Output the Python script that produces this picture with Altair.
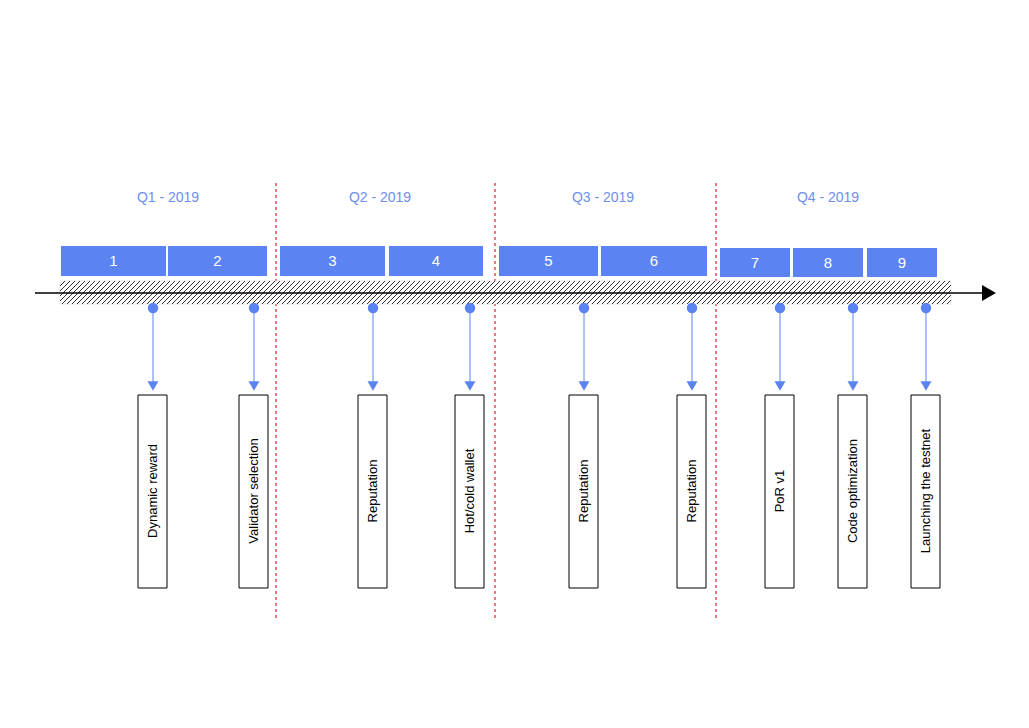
import altair as alt
import pandas as pd

quarters = ["Q1 - 2019", "Q2 - 2019", "Q3 - 2019", "Q4 - 2019"]
quarter_x = [168, 380, 603, 828]
dividers = [276, 495, 716]
sprint_labels = ["1", "2", "3", "4", "5", "6", "7", "8", "9"]
sprint_x0 = [61, 168, 280, 389, 499, 601, 720, 793, 867]
sprint_x1 = [166, 267, 385, 483, 598, 707, 790, 863, 937]
task_labels = ["Dynamic reward", "Validator selection", "Reputation", "Hot/cold wallet",
               "Reputation", "Reputation", "PoR v1", "Code optimization", "Launching the testnet"]
task_x = [153, 254, 373, 470, 584, 692, 780, 853, 926]

X = alt.Scale(domain=[8, 1021], nice=False, zero=False)
Y = alt.Scale(domain=[720, 8], nice=False, zero=False)
blue = "#5b84f2"

def xe(f): return alt.X(f, type="quantitative", scale=X, axis=None)
def ye(f): return alt.Y(f, type="quantitative", scale=Y, axis=None)

qdf = pd.DataFrame({"t": quarters, "x": quarter_x, "y": [198]*4})
qt = alt.Chart(qdf).mark_text(color="#6d8ff0", fontSize=14, font="Liberation Sans").encode(x=xe("x"), y=ye("y"), text="t")

ddf = pd.DataFrame({"x": dividers, "y": [183]*3, "y2": [620]*3})
dl = alt.Chart(ddf).mark_rule(color="#d9242c", strokeDash=[3, 3], strokeWidth=1.2).encode(x=xe("x"), y=ye("y"), y2="y2")

sdf = pd.DataFrame({"t": sprint_labels, "x": sprint_x0, "x2": sprint_x1,
                    "y": [246]*6 + [248]*3, "y2": [276]*6 + [277]*3})
sdf["xm"] = (sdf.x + sdf.x2) / 2
sdf["ym"] = (sdf.y + sdf.y2) / 2
sb = alt.Chart(sdf).mark_rect(color=blue).encode(x=xe("x"), x2="x2", y=ye("y"), y2="y2")
st = alt.Chart(sdf).mark_text(color="white", fontSize=15, font="Liberation Sans").encode(x=xe("xm"), y=ye("ym"), text="t")

# hatched band
hx = list(range(60 - 23, 951, 5))
rows = []
for x in hx:
    xa, ya, xb, yb = x, 304, x + 23, 281
    if xa < 60:
        ya = 304 - (60 - xa); xa = 60
    if xb > 951:
        yb = 281 + (xb - 951); xb = 951
    if xa < xb:
        rows.append({"x": xa, "y": ya, "x2": xb, "y2": yb})
hdf = pd.DataFrame(rows)
band = alt.Chart(pd.DataFrame({"x": [60], "x2": [951], "y": [281], "y2": [304]})).mark_rect(fill="white", stroke="#ccc", strokeWidth=0.5).encode(x=xe("x"), x2="x2", y=ye("y"), y2="y2")
hatch = alt.Chart(hdf).mark_rule(color="#333", strokeWidth=1).encode(x=xe("x"), x2="x2", y=ye("y"), y2="y2")

axis_line = alt.Chart(pd.DataFrame({"x": [35], "x2": [982], "y": [293]})).mark_rule(color="black", strokeWidth=1.5).encode(x=xe("x"), x2="x2", y=ye("y"))
arrow = alt.Chart(pd.DataFrame({"x": [989], "y": [293]})).mark_point(shape="triangle-right", filled=True, color="black", size=260, opacity=1).encode(x=xe("x"), y=ye("y"))

tdf = pd.DataFrame({"t": task_labels, "x": task_x})
tdf["y"] = 308; tdf["ya"] = 384; tdf["yh"] = 386
tdf["bx"] = tdf.x - 15; tdf["bx2"] = tdf.x + 14
tdf["by"] = 395; tdf["by2"] = 588; tdf["ym"] = 491
conn = alt.Chart(tdf).mark_rule(color=blue, strokeWidth=1).encode(x=xe("x"), y=ye("y"), y2="ya")
dots = alt.Chart(tdf).mark_circle(color=blue, size=110, opacity=1).encode(x=xe("x"), y=ye("y"))
heads = alt.Chart(tdf).mark_point(shape="triangle-down", filled=True, color=blue, size=120, opacity=1).encode(x=xe("x"), y=ye("yh"))
boxes = alt.Chart(tdf).mark_rect(fill="white", stroke="black", strokeWidth=1).encode(x=xe("bx"), x2="bx2", y=ye("by"), y2="by2")
btext = alt.Chart(tdf).mark_text(angle=270, fontSize=13, font="Liberation Sans", color="black").encode(x=xe("x"), y=ye("ym"), text="t")

chart = alt.layer(dl, qt, sb, st, band, hatch, axis_line, arrow, conn, dots, heads, boxes, btext).properties(
    width=1013, height=712, autosize=alt.AutoSizeParams(type="none"), padding=0
).configure_view(stroke=None)

chart.save("out.html", embed_options={"renderer": "svg", "actions": False})
